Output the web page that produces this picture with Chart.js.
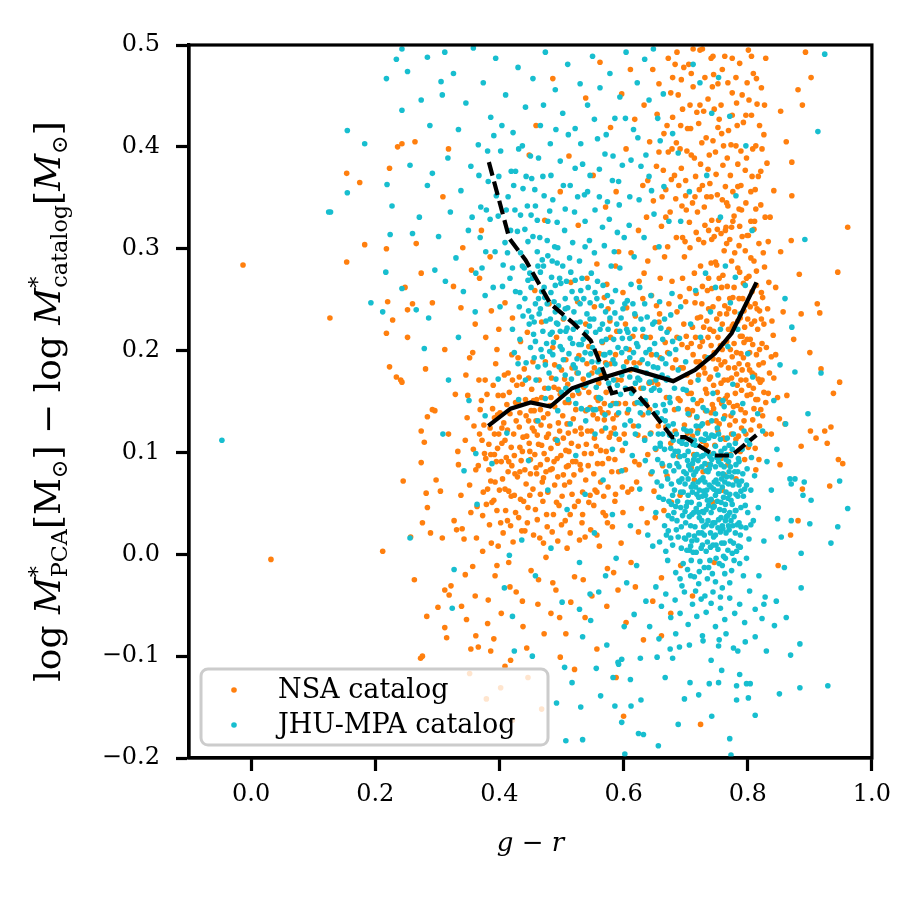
<!DOCTYPE html>
<html>
<head>
<meta charset="utf-8">
<script src="https://cdn.jsdelivr.net/npm/chart.js@4.4.1/dist/chart.umd.min.js"></script>
<style>
  html, body { margin: 0; padding: 0; background: #fff; }
  #wrap { width: 900px; height: 900px; }
</style>
</head>
<body>
<div id="wrap"><canvas id="myChart" width="900" height="900"></canvas></div>
<script>
// ticks
let xTicks = [0.0, 0.2, 0.4, 0.6, 0.8, 1.0];
let yTicks = [-0.2, -0.1, 0.0, 0.1, 0.2, 0.3, 0.4, 0.5];

// running medians (solid = NSA, dashed = JHU-MPA)
let nsaMedianX = [0.382, 0.418, 0.450, 0.482, 0.517, 0.555, 0.613, 0.680, 0.715, 0.747, 0.774, 0.814];
let nsaMedianY = [0.126, 0.143, 0.149, 0.145, 0.163, 0.171, 0.182, 0.170, 0.181, 0.197, 0.217, 0.267];
let jhuMedianX = [0.383, 0.416, 0.442, 0.482, 0.517, 0.547, 0.565, 0.581, 0.613, 0.645, 0.678, 0.699, 0.747, 0.774, 0.814];
let jhuMedianY = [0.385, 0.310, 0.289, 0.246, 0.228, 0.210, 0.184, 0.158, 0.163, 0.141, 0.115, 0.115, 0.097, 0.097, 0.117];

// NSA catalog points (g-r, delta log M)
let nsaPoints = [
// left lobe core
[0.372,0.112],[0.381,0.064],[0.389,0.143],[0.395,0.091],[0.402,0.031],[0.408,0.176],[0.413,0.122],[0.419,0.057],[0.424,0.097],[0.431,0.148],[0.436,0.023],[0.441,0.083],[0.447,0.131],[0.452,0.162],[0.458,0.044],[0.463,0.108],[0.469,0.071],[0.474,0.189],[0.481,0.126],[0.487,0.039],[0.493,0.094],[0.498,0.157],[0.505,0.068],[0.511,0.119],[0.517,0.183],
[0.366,0.087],[0.377,0.171],[0.384,0.029],[0.392,0.118],[0.398,0.156],[0.405,0.074],[0.411,0.095],[0.417,0.138],[0.422,0.012],[0.428,0.166],[0.433,0.105],[0.439,0.052],[0.444,0.116],[0.450,0.079],[0.456,0.141],[0.461,0.034],[0.467,0.127],[0.472,0.099],[0.478,0.061],[0.484,0.173],[0.490,0.113],[0.496,0.048],[0.502,0.136],[0.508,0.086],[0.514,0.021],
[0.369,0.142],[0.379,0.049],[0.386,0.098],[0.394,0.187],[0.400,0.063],[0.407,0.129],[0.414,0.081],[0.420,0.196],[0.426,0.041],[0.432,0.125],[0.437,0.167],[0.443,0.069],[0.449,0.101],[0.455,0.019],[0.460,0.152],[0.466,0.088],[0.471,0.134],[0.477,0.027],[0.483,0.104],[0.489,0.145],[0.494,0.076],[0.500,0.181],[0.506,0.033],[0.512,0.149],[0.518,0.091],
[0.375,0.127],[0.383,0.083],[0.391,0.053],[0.397,0.137],[0.404,0.109],[0.410,0.043],[0.416,0.159],[0.423,0.118],[0.429,0.076],[0.435,0.092],[0.440,0.182],[0.446,0.046],[0.453,0.124],[0.459,0.085],[0.464,0.171],[0.470,0.052],[0.476,0.115],[0.482,0.083],[0.488,0.164],[0.495,0.129],[0.501,0.057],[0.507,0.102],[0.513,0.071],[0.519,0.133],
[0.371,0.151],[0.378,0.094],[0.385,0.124],[0.393,0.071],[0.401,0.139],[0.409,0.112],[0.415,0.062],[0.421,0.171],[0.427,0.131],[0.434,0.054],[0.442,0.152],[0.448,0.109],[0.454,0.064],[0.461,0.117],[0.468,0.154],[0.475,0.081],[0.481,0.146],[0.488,0.091],[0.495,0.162],[0.503,0.114],[0.510,0.167],[0.516,0.109],[0.525,0.178],[0.531,0.124],[0.537,0.099],[0.544,0.159],[0.551,0.137],[0.558,0.089],[0.565,0.121],[0.572,0.101],
[0.383,0.108],[0.390,0.166],[0.396,0.043],[0.403,0.091],[0.412,0.147],[0.418,0.028],[0.425,0.079],[0.430,0.193],[0.438,0.115],[0.445,0.031],[0.451,0.141],[0.457,0.098],[0.465,0.016],[0.471,0.075],[0.479,0.118],[0.486,0.203],[0.492,0.051],[0.499,0.097],[0.506,0.149],[0.514,0.039],[0.520,0.078],[0.527,0.106],[0.534,0.061],[0.541,0.187],[0.547,0.024],[0.553,0.114],[0.560,0.168],[0.568,0.057],[0.575,0.139],[0.581,0.081],
[0.374,0.061],[0.387,0.011],[0.399,0.118],[0.406,0.156],[0.419,0.105],[0.433,0.139],[0.447,0.173],[0.456,0.121],[0.466,0.059],[0.478,0.138],[0.485,0.022],[0.497,0.121],[0.509,0.128],[0.518,0.156],[0.529,0.014],[0.539,0.141],[0.552,0.048],[0.562,0.143],[0.577,0.115],[0.589,0.171],
[0.368,0.118],[0.373,0.038],[0.380,0.157],[0.386,0.072],[0.392,0.134],[0.398,0.008],[0.404,0.124],[0.409,0.064],[0.414,0.178],[0.420,0.087],[0.426,0.149],[0.431,0.036],[0.437,0.101],[0.443,0.136],[0.449,0.058],[0.454,0.189],[0.460,0.079],[0.466,0.142],[0.471,0.011],[0.477,0.093],[0.483,0.154],[0.489,0.068],[0.494,0.109],[0.500,0.029],[0.505,0.172],[0.511,0.087],[0.517,0.059],[0.522,0.121],[0.528,0.158],[0.534,0.039],[0.540,0.108],[0.546,0.144],[0.552,0.079],[0.557,0.019],[0.563,0.102],[0.569,0.148],[0.575,0.066],[0.580,0.119],[0.586,0.093],[0.592,0.148],
[0.376,0.099],[0.388,0.051],[0.397,0.104],[0.406,0.021],[0.415,0.091],[0.424,0.058],[0.433,0.081],[0.441,0.023],[0.450,0.093],[0.459,0.131],[0.468,0.107],[0.476,0.039],[0.485,0.084],[0.494,0.013],[0.503,0.078],[0.512,0.101],[0.521,0.047],[0.530,0.088],[0.539,0.073],[0.548,0.121],[0.557,0.061],[0.566,0.089],[0.574,0.031],[0.583,0.133],[0.598,0.102],[0.607,0.061],[0.616,0.126],[0.625,0.088],[0.634,0.114],[0.644,0.079],
[0.352,0.068],[0.358,0.103],[0.363,0.016],[0.367,0.171],[0.392,0.098],[0.413,0.033],[0.432,0.174],[0.455,0.151],[0.473,0.163],[0.489,0.186],[0.507,0.191],[0.523,0.091],[0.535,0.172],[0.544,0.051],[0.556,0.154],[0.571,0.188],[0.587,0.059],[0.603,0.148],[0.621,0.071],[0.641,0.168],[0.345,0.112],[0.338,0.058],[0.349,0.156],[0.357,0.198],[0.396,0.201],
// left lobe edges
[0.305,0.062],[0.312,0.201],[0.318,0.118],[0.322,-0.031],[0.329,0.157],[0.334,0.088],[0.338,0.242],[0.343,0.015],[0.348,0.134],[0.352,0.193],[0.357,-0.012],[0.361,0.226],[0.364,0.047],[0.368,0.271],[0.373,0.003],[0.378,0.213],[0.382,-0.045],[0.387,0.239],[0.393,-0.021],[0.399,0.221],[0.403,-0.058],[0.409,0.247],[0.415,-0.008],[0.421,0.232],[0.427,-0.037],[0.434,0.209],[0.438,-0.071],[0.445,0.218],[0.451,-0.016],[0.457,0.259],[0.462,-0.049],[0.468,0.228],[0.475,-0.003],[0.480,0.246],[0.486,-0.028],[0.492,0.213],[0.497,-0.062],[0.503,0.231],[0.509,0.006],[0.515,0.267],[0.521,-0.022],[0.527,0.052],[0.532,0.118],[0.538,0.017],[0.543,0.087],[0.549,-0.041],[0.554,0.063],[0.561,0.008],[0.567,0.041],[0.574,-0.014],[0.582,0.027],[0.591,-0.035],
[0.326,0.263],[0.341,0.301],[0.355,0.279],[0.371,0.318],[0.385,0.292],[0.296,0.141],[0.289,0.021],[0.301,-0.052],[0.315,-0.082],[0.333,0.101],[0.346,0.176],[0.359,0.126],[0.362,0.083],[0.354,0.041],[0.347,-0.064],[0.366,-0.091],[0.391,-0.083],[0.418,-0.104],[0.444,-0.092],[0.472,-0.078],[0.498,-0.101],[0.281,0.182],[0.273,-0.102],[0.292,0.247],[0.309,0.351],[0.318,0.398],[0.264,0.405],[0.248,0.262],[0.241,0.171],
[0.276,-0.100],[0.312,-0.072],[0.354,-0.093],[0.386,-0.095],[0.362,-0.080],[0.409,-0.110],[0.345,-0.020],[0.312,-0.035],[0.319,-0.040],[0.276,0.031],[0.282,0.060],[0.284,0.046],[0.298,0.073],[0.274,0.090],[0.279,0.110],[0.274,0.121],[0.284,0.135],[0.292,0.142],[0.308,0.016],[0.327,0.033],[0.340,0.025],
// middle band
[0.523,0.142],[0.528,0.195],[0.531,0.083],[0.536,0.164],[0.539,0.226],[0.542,0.121],[0.546,0.058],[0.549,0.178],[0.553,0.243],[0.556,0.106],[0.559,0.151],[0.563,0.071],[0.566,0.208],[0.569,0.132],[0.573,0.265],[0.576,0.094],[0.579,0.187],[0.583,0.148],[0.586,0.052],[0.589,0.219],[0.593,0.113],[0.596,0.171],[0.599,0.257],[0.603,0.083],[0.606,0.139],[0.609,0.201],[0.613,0.064],[0.616,0.162],[0.619,0.234],[0.623,0.117],[0.626,0.188],[0.629,0.045],[0.633,0.276],[0.636,0.148],[0.639,0.098],[0.643,0.213],[0.646,0.169],[0.649,0.062],[0.653,0.244],[0.656,0.126],[0.659,0.193],[0.663,0.087],[0.666,0.292],[0.669,0.154],[0.673,0.221],[0.676,0.109],[0.679,0.183],
[0.526,0.248],[0.533,0.031],[0.541,0.271],[0.548,0.099],[0.557,0.285],[0.564,0.176],[0.571,0.038],[0.578,0.229],[0.585,0.124],[0.592,0.297],[0.598,0.066],[0.605,0.242],[0.611,0.181],[0.618,0.091],[0.625,0.268],[0.631,0.137],[0.638,0.031],[0.645,0.254],[0.652,0.103],[0.658,0.236],[0.665,0.043],[0.671,0.198],[0.678,0.268],[0.544,0.204],[0.558,0.133],[0.572,0.159],[0.587,0.196],[0.601,0.118],[0.615,0.214],[0.628,0.163],[0.642,0.142],[0.655,0.167],[0.668,0.125],
[0.561,0.197],[0.575,0.241],[0.589,0.137],[0.603,0.226],[0.617,0.188],[0.631,0.251],[0.645,0.196],[0.659,0.271],[0.673,0.246],[0.667,0.208],
[0.553,0.183],[0.566,0.139],[0.579,0.213],[0.592,0.081],[0.605,0.189],[0.618,0.148],[0.631,0.214],[0.644,0.119],[0.657,0.228],[0.670,0.077],[0.683,0.121],[0.691,0.253],[0.599,0.041],[0.624,0.022],[0.651,0.036],[0.677,0.051],[0.569,0.252],[0.587,0.283],[0.612,0.296],[0.639,0.288],
// right lobe core
[0.682,0.142],[0.686,0.238],[0.689,0.096],[0.692,0.183],[0.695,0.271],[0.698,0.127],[0.701,0.214],[0.704,0.158],[0.707,0.301],[0.709,0.085],[0.712,0.196],[0.715,0.247],[0.718,0.134],[0.721,0.176],[0.724,0.283],[0.727,0.111],[0.729,0.223],[0.732,0.162],[0.735,0.259],[0.738,0.098],[0.741,0.205],[0.743,0.147],[0.746,0.312],[0.749,0.182],[0.752,0.121],[0.755,0.236],[0.757,0.168],[0.760,0.274],[0.763,0.136],[0.766,0.209],[0.768,0.088],[0.771,0.251],[0.774,0.173],[0.777,0.145],[0.779,0.296],[0.782,0.198],[0.785,0.116],[0.788,0.232],[0.790,0.161],[0.793,0.266],[0.796,0.139],[0.799,0.211],[0.801,0.105],[0.804,0.243],[0.807,0.178],[0.810,0.288],[0.813,0.152],[0.816,0.221],[0.819,0.126],[0.822,0.257],[0.825,0.188],
[0.684,0.191],[0.691,0.058],[0.697,0.226],[0.703,0.119],[0.708,0.169],[0.714,0.073],[0.719,0.232],[0.725,0.151],[0.731,0.194],[0.736,0.129],[0.742,0.261],[0.747,0.107],[0.753,0.191],[0.758,0.148],[0.764,0.318],[0.769,0.183],[0.775,0.224],[0.780,0.131],[0.786,0.187],[0.791,0.214],[0.797,0.171],[0.802,0.273],[0.808,0.132],[0.814,0.196],[0.820,0.169],[0.826,0.226],
[0.688,0.153],[0.694,0.206],[0.700,0.248],[0.706,0.137],[0.711,0.223],[0.717,0.189],[0.723,0.204],[0.728,0.081],[0.734,0.229],[0.740,0.174],[0.745,0.219],[0.751,0.159],[0.756,0.205],[0.761,0.114],[0.767,0.156],[0.772,0.201],[0.778,0.262],[0.783,0.166],[0.789,0.142],[0.794,0.239],[0.800,0.186],[0.805,0.157],[0.811,0.229],[0.817,0.172],[0.823,0.207],[0.829,0.149],[0.832,0.241],[0.835,0.178],[0.838,0.118],[0.841,0.215],[0.845,0.262],[0.848,0.154],[0.772,0.098],[0.781,0.074],[0.795,0.093],[0.759,0.063],[0.744,0.051],
[0.702,0.176],[0.706,0.261],[0.711,0.141],[0.716,0.213],[0.720,0.122],[0.726,0.246],[0.731,0.178],[0.737,0.271],[0.741,0.139],[0.746,0.198],[0.750,0.284],[0.754,0.152],[0.759,0.226],[0.763,0.189],[0.767,0.263],[0.771,0.127],[0.775,0.194],[0.779,0.238],[0.783,0.146],[0.787,0.277],[0.791,0.181],[0.795,0.223],[0.799,0.156],[0.803,0.198],[0.807,0.258],[0.811,0.176],[0.815,0.241],[0.819,0.201],[0.823,0.171],[0.827,0.282],[0.733,0.107],[0.757,0.094],[0.781,0.113],[0.805,0.122],[0.818,0.093],[0.762,0.298],[0.786,0.303],[0.744,0.243],[0.769,0.221],[0.793,0.193],
[0.722,0.189],[0.727,0.263],[0.732,0.141],[0.736,0.213],[0.741,0.286],[0.745,0.166],[0.750,0.231],[0.754,0.128],[0.758,0.262],[0.762,0.171],[0.766,0.236],[0.770,0.149],[0.774,0.288],[0.778,0.207],[0.782,0.177],[0.786,0.251],[0.790,0.124],[0.794,0.208],[0.798,0.271],[0.802,0.166],[0.806,0.226],[0.810,0.143],[0.814,0.264],[0.818,0.186],[0.822,0.231],[0.826,0.159],[0.830,0.203],[0.834,0.267],[0.838,0.194],[0.842,0.173],
[0.753,0.251],[0.761,0.207],[0.768,0.171],[0.776,0.252],[0.784,0.229],[0.792,0.251],[0.800,0.231],[0.808,0.206],[0.816,0.152],[0.824,0.252],[0.757,0.186],[0.773,0.136],[0.789,0.197],[0.805,0.291],[0.821,0.142],[0.737,0.241],[0.745,0.143],[0.764,0.113],[0.780,0.158],[0.797,0.118],[0.812,0.104],[0.829,0.118],[0.748,0.287],[0.771,0.309],[0.796,0.298],[0.717,0.256],[0.709,0.207],[0.703,0.142],[0.696,0.183],[0.713,0.098],
[0.703,0.203],[0.709,0.158],[0.714,0.276],[0.719,0.148],[0.724,0.233],[0.729,0.183],[0.734,0.158],[0.739,0.221],[0.744,0.192],[0.749,0.131],[0.754,0.271],[0.759,0.201],[0.764,0.153],[0.769,0.241],[0.774,0.118],[0.779,0.183],[0.784,0.281],[0.789,0.171],[0.794,0.131],[0.799,0.246],[0.804,0.211],[0.809,0.163],[0.814,0.278],[0.819,0.239],[0.824,0.136],[0.729,0.306],[0.751,0.319],[0.776,0.327],[0.801,0.313],[0.825,0.296],[0.711,0.116],[0.736,0.088],[0.762,0.078],[0.788,0.101],[0.813,0.083],[0.833,0.158],[0.839,0.229],[0.845,0.196],[0.851,0.133],[0.727,0.209],[0.752,0.213],[0.777,0.226],[0.803,0.181],[0.738,0.172],[0.763,0.244],[0.788,0.214],[0.812,0.246],[0.698,0.292],[0.691,0.151],[0.686,0.213],
// upper right
[0.624,0.318],[0.631,0.362],[0.637,0.331],[0.642,0.405],[0.648,0.347],[0.653,0.381],[0.657,0.462],[0.661,0.322],[0.665,0.413],[0.668,0.358],[0.672,0.487],[0.675,0.336],[0.679,0.429],[0.682,0.372],[0.685,0.311],[0.688,0.451],[0.691,0.398],[0.694,0.342],[0.697,0.478],[0.700,0.367],[0.703,0.418],[0.706,0.326],[0.709,0.392],[0.712,0.459],[0.715,0.351],[0.718,0.434],[0.721,0.309],[0.724,0.383],[0.727,0.496],[0.730,0.341],[0.733,0.409],[0.736,0.447],[0.739,0.364],[0.742,0.328],[0.745,0.471],[0.748,0.395],[0.751,0.353],[0.754,0.427],[0.757,0.315],[0.760,0.382],[0.763,0.489],[0.766,0.345],[0.769,0.416],[0.772,0.372],[0.775,0.453],[0.778,0.332],[0.781,0.401],[0.784,0.361],[0.787,0.482],[0.790,0.338],[0.793,0.424],[0.796,0.377],[0.799,0.313],[0.802,0.446],[0.805,0.356],[0.808,0.398],[0.811,0.327],[0.814,0.467],[0.817,0.371],[0.821,0.343],[0.826,0.412],[0.831,0.384],[0.836,0.331],[0.842,0.357],
[0.664,0.377],[0.671,0.302],[0.678,0.398],[0.686,0.493],[0.693,0.379],[0.699,0.307],[0.707,0.441],[0.714,0.389],[0.722,0.358],[0.729,0.435],[0.737,0.318],[0.744,0.406],[0.752,0.462],[0.759,0.348],[0.767,0.389],[0.774,0.321],[0.782,0.443],[0.789,0.396],[0.797,0.345],[0.806,0.489],[0.813,0.401],[0.822,0.458],[0.829,0.487],
[0.668,0.331],[0.676,0.453],[0.684,0.349],[0.692,0.421],[0.701,0.338],[0.709,0.472],[0.717,0.316],[0.726,0.404],[0.734,0.351],[0.741,0.487],[0.749,0.373],[0.757,0.441],[0.765,0.321],[0.773,0.402],[0.781,0.468],[0.789,0.362],[0.797,0.431],[0.805,0.327],[0.812,0.358],[0.819,0.421],[0.702,0.396],[0.731,0.468],[0.758,0.413],[0.786,0.339],[0.809,0.472],
[0.662,0.351],[0.670,0.421],[0.677,0.368],[0.685,0.404],[0.693,0.466],[0.700,0.352],[0.708,0.418],[0.716,0.371],[0.723,0.441],[0.731,0.323],[0.738,0.392],[0.746,0.437],[0.753,0.328],[0.761,0.401],[0.768,0.463],[0.776,0.356],[0.783,0.421],[0.791,0.312],[0.798,0.389],[0.806,0.431],[0.813,0.339],[0.821,0.376],[0.828,0.331],[0.695,0.311],[0.719,0.336],[0.741,0.351],[0.764,0.361],[0.787,0.322],[0.810,0.319],[0.833,0.307],[0.654,0.432],[0.683,0.481],[0.712,0.496],[0.744,0.489],[0.775,0.487],[0.801,0.495],[0.827,0.441],[0.639,0.367],[0.651,0.301],[0.633,0.441],
[0.672,0.395],[0.689,0.362],[0.705,0.481],[0.721,0.423],[0.736,0.378],[0.752,0.419],[0.768,0.342],[0.784,0.383],[0.799,0.463],[0.815,0.442],[0.679,0.468],[0.695,0.437],[0.711,0.345],[0.727,0.362],[0.743,0.459],[0.759,0.476],[0.775,0.431],[0.791,0.451],[0.807,0.371],[0.823,0.398],[0.657,0.395],[0.647,0.476],[0.742,0.309],[0.766,0.305],[0.818,0.305],
[0.618,0.427],[0.611,0.476],[0.604,0.398],[0.597,0.452],[0.588,0.356],[0.579,0.419],[0.571,0.341],[0.562,0.483],[0.551,0.372],[0.539,0.448],[0.527,0.323],[0.512,0.391],[0.498,0.356],[0.486,0.467],[0.473,0.328],[0.459,0.421],[0.448,0.392],[0.862,0.405],[0.871,0.352],[0.881,0.456],[0.893,0.493],[0.853,0.297],
[0.723,0.495],[0.902,0.468],[0.888,0.441],[0.886,0.236],[0.900,0.198],[0.916,0.237],[0.948,0.169],[0.870,0.308],[0.871,0.385],[0.853,0.435],[0.945,0.277],
// lower part
[0.352,-0.117],[0.379,-0.142],[0.402,-0.131],[0.421,-0.163],[0.446,-0.121],[0.468,-0.152],[0.483,-0.058],[0.507,-0.078],[0.521,-0.113],[0.538,-0.062],[0.557,-0.093],[0.573,-0.051],[0.588,-0.121],[0.604,-0.067],[0.619,-0.032],[0.632,-0.084],[0.647,-0.046],[0.661,-0.023],[0.676,-0.058],[0.692,-0.011],[0.711,-0.041],[0.724,-0.167],[0.746,-0.008],[0.612,-0.008],[0.596,0.011],[0.584,-0.018],[0.535,-0.025],[0.515,-0.047],[0.491,-0.035],[0.463,-0.025],[0.437,-0.046],[0.417,-0.032],[0.396,-0.011],[0.381,-0.068],[0.361,-0.041],[0.339,-0.051],[0.331,0.024],[0.600,-0.159],[0.661,-0.080],
// right side scatter
[0.852,0.088],[0.863,0.156],[0.874,0.211],[0.888,0.064],[0.901,0.121],[0.918,0.182],[0.928,0.109],[0.938,0.158],[0.946,0.093],[0.961,0.321],[0.857,0.238],[0.869,0.019],[0.883,0.275],[0.912,0.246],[0.953,0.089],[0.932,0.067],[0.886,0.106],[0.910,0.114],[0.924,0.121],[0.934,0.125],[0.860,0.128],[0.881,0.033],[0.849,-0.011],
// far left
[-0.013,0.284],[0.032,-0.005],[0.212,0.003],[0.127,0.232],[0.154,0.374],[0.175,0.365],[0.154,0.287],[0.183,0.304],[0.218,0.300],[0.223,0.379],[0.236,0.400],[0.243,0.403],[0.266,0.305],[0.274,0.276],[0.218,0.217],[0.220,0.248],[0.223,0.184],[0.234,0.174],[0.243,0.169],[0.228,0.230],[0.252,0.240],[0.252,0.213],[0.260,0.246],[0.245,0.072],[0.257,0.017],[0.263,-0.025],[0.283,-0.061]
];

// JHU-MPA catalog points
let jhuPoints = [
// red-sequence blob
[0.652,0.041],[0.655,0.093],[0.658,0.012],[0.661,0.067],[0.663,0.118],[0.666,0.028],[0.668,0.081],[0.671,-0.006],[0.673,0.052],[0.676,0.104],[0.678,0.035],[0.680,0.128],[0.682,0.063],[0.684,-0.018],[0.686,0.089],[0.688,0.017],[0.690,0.111],[0.692,0.046],[0.694,0.074],[0.696,-0.009],[0.698,0.097],[0.700,0.031],[0.702,0.121],[0.704,0.058],[0.706,0.004],[0.708,0.083],[0.710,0.039],[0.712,0.108],[0.714,-0.022],[0.716,0.066],[0.718,0.014],[0.720,0.092],[0.722,0.049],[0.724,0.126],[0.726,0.021],[0.728,0.075],[0.730,-0.013],[0.732,0.058],[0.734,0.101],[0.736,0.033],[0.738,0.084],[0.740,0.007],[0.742,0.117],[0.744,0.046],[0.746,0.071],[0.748,-0.027],[0.750,0.095],[0.752,0.026],[0.754,0.062],[0.756,0.113],[0.758,0.011],[0.760,0.079],[0.762,0.043],[0.764,-0.004],[0.766,0.098],[0.768,0.055],[0.770,0.024],[0.772,0.086],[0.774,-0.016],[0.776,0.068],[0.778,0.037],[0.780,0.109],[0.782,0.003],[0.784,0.057],[0.786,0.091],[0.788,0.019],[0.790,0.072],[0.793,-0.021],[0.796,0.048],[0.799,0.084],[0.802,0.015],[0.805,0.063],[0.809,0.033],
[0.654,0.071],[0.659,0.109],[0.664,0.054],[0.669,0.019],[0.674,0.087],[0.679,0.009],[0.683,0.101],[0.687,0.052],[0.691,-0.024],[0.695,0.038],[0.699,0.069],[0.703,-0.015],[0.707,0.113],[0.711,0.061],[0.715,0.027],[0.719,0.119],[0.723,-0.007],[0.727,0.042],[0.731,0.089],[0.735,0.012],[0.739,0.053],[0.743,-0.019],[0.747,0.031],[0.751,0.124],[0.755,0.044],[0.759,-0.011],[0.763,0.071],[0.767,0.114],[0.771,0.041],[0.775,0.001],[0.779,0.081],[0.783,0.029],[0.787,-0.009],[0.791,0.103],[0.795,0.064],[0.800,0.041],[0.806,0.095],
[0.657,0.056],[0.662,0.089],[0.667,0.131],[0.672,0.023],[0.677,0.069],[0.681,0.041],[0.685,0.118],[0.689,0.072],[0.693,0.006],[0.697,0.123],[0.701,0.047],[0.705,0.087],[0.709,-0.006],[0.713,0.078],[0.717,0.045],[0.721,-0.029],[0.725,0.096],[0.729,0.062],[0.733,0.029],[0.737,0.114],[0.741,0.066],[0.745,0.099],[0.749,0.009],[0.753,0.079],[0.757,0.051],[0.761,0.133],[0.765,0.021],[0.769,0.069],[0.773,0.053],[0.777,0.118],[0.781,0.059],[0.785,0.008],[0.789,0.046],[0.794,0.121],[0.798,-0.004],[0.803,0.108],[0.811,0.077],
[0.700,0.015],[0.703,0.092],[0.706,0.037],[0.709,0.066],[0.712,0.002],[0.715,0.097],[0.718,0.059],[0.721,0.021],[0.724,0.073],[0.727,0.009],[0.730,0.112],[0.733,0.044],[0.736,0.081],[0.739,-0.006],[0.742,0.028],[0.745,0.064],[0.748,0.106],[0.751,0.052],[0.754,-0.009],[0.757,0.088],[0.760,0.025],[0.763,0.104],[0.766,0.037],[0.769,0.091],[0.772,0.013],[0.718,0.135],[0.734,0.141],[0.748,0.138],[0.762,0.145],[0.776,0.139],[0.744,-0.037],[0.731,-0.041],[0.759,-0.033],[0.716,-0.036],[0.771,-0.028],
[0.668,0.003],[0.674,0.117],[0.679,0.058],[0.685,0.024],[0.691,0.096],[0.696,0.061],[0.702,0.004],[0.708,0.121],[0.713,0.041],[0.719,0.084],[0.725,0.006],[0.731,0.071],[0.737,0.048],[0.742,0.093],[0.748,0.019],[0.753,0.118],[0.759,0.066],[0.764,0.033],[0.770,0.107],[0.775,0.049],[0.781,0.088],[0.786,0.031],[0.792,0.079],[0.797,0.026],[0.703,0.051],[0.716,0.107],[0.729,0.027],[0.741,0.041],[0.755,0.096],[0.768,0.004],[0.722,0.063],[0.735,0.099],[0.748,0.086],[0.761,0.056],[0.711,0.089],[0.694,0.109],[0.681,0.082],[0.786,0.068],[0.799,0.112],[0.672,0.038],
[0.671,0.074],[0.676,0.016],[0.680,0.112],[0.684,0.047],[0.689,0.086],[0.693,0.027],[0.697,0.081],[0.701,0.108],[0.705,0.019],[0.709,0.051],[0.713,0.093],[0.717,0.002],[0.721,0.056],[0.725,0.113],[0.729,0.041],[0.733,0.082],[0.737,-0.013],[0.741,0.054],[0.745,0.017],[0.749,0.073],[0.753,0.034],[0.757,0.101],[0.761,-0.002],[0.765,0.061],[0.769,0.028],[0.773,0.097],[0.777,0.011],[0.781,0.043],[0.785,0.094],[0.789,0.062],[0.708,0.028],[0.714,0.112],[0.720,0.071],[0.726,0.033],[0.732,0.118],[0.738,0.068],[0.744,0.009],[0.750,0.062],[0.756,0.022],[0.762,0.086],[0.768,0.038],[0.774,0.076],[0.780,0.021],[0.692,0.061],[0.698,0.016],[0.704,0.074],[0.710,0.013],[0.716,0.081],[0.722,0.036],[0.728,0.097],[0.734,0.063],[0.740,0.088],[0.746,0.047],[0.752,0.005],[0.758,0.074],[0.764,0.049],[0.770,0.081],[0.776,0.028],[0.782,0.072],[0.788,0.007],[0.735,-0.024],[0.722,-0.017],[0.749,-0.004],[0.763,-0.019],[0.708,-0.021],[0.778,-0.006],[0.694,-0.031],[0.756,-0.042],[0.742,0.131],[0.727,0.128],
[0.686,0.033],[0.690,0.071],[0.695,0.113],[0.699,0.042],[0.704,0.101],[0.708,0.008],[0.712,0.069],[0.717,0.126],[0.721,0.041],[0.726,0.086],[0.730,0.019],[0.735,0.053],[0.739,0.096],[0.744,0.031],[0.748,0.058],[0.753,0.091],[0.757,0.036],[0.762,0.011],[0.766,0.076],[0.771,0.059],[0.775,0.103],[0.780,0.043],[0.784,0.081],[0.789,0.027],[0.793,0.057],[0.714,0.018],[0.727,0.057],[0.740,0.021],[0.752,0.069],[0.765,0.093],[0.701,0.079],[0.718,0.098],[0.733,0.003],[0.746,0.116],[0.759,0.028],[0.773,0.033],[0.688,0.101],[0.677,0.049],[0.798,0.068],[0.805,0.029],
// middle band
[0.421,0.221],[0.426,0.258],[0.430,0.187],[0.434,0.296],[0.438,0.234],[0.442,0.171],[0.446,0.269],[0.450,0.203],[0.454,0.312],[0.458,0.246],[0.462,0.184],[0.466,0.277],[0.470,0.219],[0.474,0.153],[0.478,0.293],[0.482,0.231],[0.486,0.196],[0.490,0.264],[0.494,0.141],[0.498,0.219],[0.502,0.283],[0.506,0.176],[0.510,0.242],[0.514,0.128],[0.518,0.207],[0.522,0.269],[0.526,0.161],[0.530,0.228],[0.534,0.191],[0.538,0.302],[0.542,0.142],[0.546,0.247],[0.550,0.203],[0.554,0.118],[0.558,0.268],[0.562,0.181],[0.566,0.226],[0.570,0.137],[0.574,0.254],[0.578,0.198],[0.582,0.103],[0.586,0.237],[0.590,0.166],[0.594,0.281],[0.598,0.212],[0.602,0.127],[0.606,0.249],[0.610,0.174],[0.614,0.097],[0.618,0.221],[0.622,0.149],[0.626,0.262],[0.630,0.191],[0.634,0.112],[0.638,0.233],[0.642,0.169],[0.646,0.081],[0.650,0.207],[0.654,0.139],[0.658,0.248],[0.662,0.176],[0.666,0.103],[0.670,0.218],[0.674,0.154],[0.678,0.256],
[0.424,0.198],[0.432,0.243],[0.440,0.281],[0.448,0.226],[0.456,0.193],[0.464,0.236],[0.472,0.262],[0.480,0.178],[0.488,0.248],[0.496,0.184],[0.504,0.232],[0.512,0.197],[0.520,0.238],[0.528,0.206],[0.536,0.251],[0.544,0.176],[0.552,0.231],[0.560,0.154],[0.568,0.196],[0.576,0.168],[0.584,0.211],[0.592,0.139],[0.600,0.184],[0.608,0.142],[0.616,0.198],[0.624,0.126],[0.632,0.163],[0.640,0.139],[0.648,0.184],[0.656,0.118],[0.664,0.147],[0.672,0.126],[0.680,0.097],[0.688,0.143],[0.696,0.162],[0.704,0.138],[0.712,0.152],[0.720,0.171],[0.728,0.144],[0.736,0.193],[0.744,0.158],[0.752,0.176],[0.760,0.151],[0.768,0.204],[0.776,0.167],[0.784,0.221],[0.792,0.148],[0.800,0.197],[0.808,0.174],[0.816,0.138],
[0.476,0.207],[0.484,0.272],[0.492,0.227],[0.500,0.159],[0.508,0.268],[0.516,0.172],[0.524,0.251],[0.532,0.143],[0.540,0.218],[0.548,0.276],[0.556,0.164],[0.564,0.244],[0.572,0.211],[0.580,0.283],[0.588,0.148],[0.596,0.232],[0.604,0.202],[0.612,0.265],[0.620,0.183],[0.628,0.231],[0.636,0.198],[0.644,0.254],[0.652,0.171],[0.660,0.222],[0.668,0.187],[0.676,0.235],[0.684,0.201],[0.692,0.243],[0.700,0.189],[0.708,0.226],[0.716,0.259],[0.724,0.213],[0.732,0.276],[0.740,0.238],[0.748,0.262],[0.756,0.221],[0.764,0.283],[0.772,0.247],[0.780,0.272],[0.788,0.236],[0.796,0.264],
[0.433,0.211],[0.441,0.251],[0.452,0.233],[0.461,0.297],[0.469,0.194],[0.477,0.246],[0.485,0.218],[0.493,0.286],[0.501,0.201],[0.509,0.222],[0.517,0.258],[0.525,0.192],[0.533,0.271],[0.541,0.236],[0.549,0.189],[0.557,0.251],[0.565,0.209],[0.573,0.186],[0.581,0.248],[0.589,0.226],[0.597,0.176],[0.605,0.221],[0.613,0.158],[0.621,0.207],[0.629,0.148],[0.637,0.178],[0.645,0.161],[0.653,0.196],[0.661,0.133],[0.669,0.171],
[0.443,0.188],[0.447,0.239],[0.451,0.262],[0.455,0.216],[0.459,0.171],[0.463,0.251],[0.467,0.201],[0.471,0.283],[0.475,0.229],[0.479,0.163],[0.483,0.257],[0.487,0.208],[0.491,0.172],[0.495,0.244],[0.499,0.266],[0.503,0.191],[0.507,0.219],[0.511,0.152],[0.515,0.277],[0.519,0.186],[0.523,0.227],[0.527,0.178],[0.531,0.259],[0.535,0.211],[0.539,0.166],[0.543,0.262],[0.547,0.197],[0.551,0.142],[0.555,0.218],[0.559,0.189],[0.563,0.153],[0.567,0.264],[0.571,0.174],[0.575,0.221],[0.579,0.146],[0.583,0.191],[0.587,0.259],[0.591,0.203],[0.595,0.157],[0.599,0.241],[0.603,0.163],[0.607,0.218],[0.611,0.131],[0.615,0.246],[0.619,0.168],[0.623,0.204],[0.627,0.139],[0.631,0.221],[0.635,0.151],[0.639,0.187],[0.643,0.118],[0.647,0.226],[0.651,0.146],[0.655,0.183],[0.659,0.106],[0.663,0.211],[0.667,0.141],[0.671,0.173],[0.675,0.118],[0.679,0.209],
[0.456,0.228],[0.468,0.258],[0.481,0.199],[0.494,0.226],[0.506,0.251],[0.519,0.221],[0.532,0.206],[0.545,0.224],[0.558,0.179],[0.571,0.238],[0.584,0.171],[0.597,0.198],[0.610,0.212],[0.623,0.173],[0.636,0.213],[0.649,0.163],[0.662,0.192],[0.675,0.149],[0.688,0.181],[0.701,0.161],
[0.458,0.209],[0.466,0.241],[0.474,0.186],[0.482,0.216],[0.490,0.238],[0.498,0.204],[0.506,0.241],[0.514,0.212],[0.522,0.183],[0.530,0.246],[0.538,0.198],[0.546,0.231],[0.554,0.257],[0.562,0.221],[0.570,0.196],[0.578,0.232],[0.586,0.187],[0.594,0.219],[0.602,0.246],[0.610,0.193],[0.618,0.236],[0.626,0.171],[0.634,0.246],[0.642,0.201],[0.650,0.228],[0.658,0.161],[0.666,0.231],[0.674,0.197],[0.682,0.163],[0.690,0.212],[0.507,0.163],[0.523,0.148],[0.539,0.131],[0.555,0.142],[0.571,0.124],[0.587,0.118],[0.603,0.109],[0.619,0.118],[0.635,0.092],[0.651,0.104],
// upper-left wedge
[0.302,0.312],[0.308,0.451],[0.313,0.268],[0.317,0.389],[0.321,0.336],[0.326,0.472],[0.330,0.291],[0.334,0.417],[0.338,0.357],[0.342,0.258],[0.346,0.443],[0.350,0.318],[0.354,0.381],[0.358,0.497],[0.362,0.276],[0.366,0.402],[0.370,0.341],[0.374,0.463],[0.378,0.297],[0.382,0.366],[0.386,0.429],[0.390,0.262],[0.394,0.487],[0.398,0.332],[0.402,0.396],[0.406,0.284],[0.410,0.451],[0.414,0.351],[0.418,0.318],[0.422,0.414],[0.426,0.376],[0.430,0.478],[0.434,0.333],[0.438,0.359],[0.442,0.439],[0.446,0.307],[0.450,0.391],[0.454,0.467],[0.458,0.342],[0.462,0.283],[0.466,0.421],[0.470,0.371],[0.474,0.493],[0.478,0.327],[0.482,0.403],[0.486,0.348],[0.490,0.456],[0.494,0.301],[0.498,0.386],[0.502,0.433],[0.506,0.339],[0.510,0.481],[0.514,0.362],[0.518,0.306],[0.522,0.418],[0.526,0.351],[0.530,0.462],[0.534,0.383],[0.538,0.327],[0.542,0.441],[0.546,0.372],[0.550,0.489],[0.554,0.338],[0.558,0.408],[0.562,0.458],[0.566,0.321],[0.570,0.393],[0.574,0.346],[0.578,0.472],[0.582,0.367],[0.586,0.428],[0.590,0.316],[0.594,0.449],[0.598,0.382],[0.604,0.493],[0.610,0.351],[0.616,0.417],[0.622,0.463],[0.628,0.381],[0.634,0.486],[0.641,0.446],[0.648,0.496],[0.655,0.428],
[0.361,0.238],[0.369,0.311],[0.377,0.254],[0.385,0.329],[0.393,0.297],[0.401,0.243],[0.409,0.306],[0.417,0.271],[0.425,0.338],[0.433,0.257],[0.441,0.319],[0.449,0.276],[0.457,0.358],[0.465,0.311],[0.473,0.252],[0.481,0.337],[0.489,0.302],[0.497,0.271],[0.505,0.318],[0.513,0.291],[0.521,0.336],[0.529,0.288],[0.537,0.353],[0.545,0.308],[0.553,0.296],[0.561,0.351],[0.569,0.303],[0.577,0.329],[0.585,0.297],[0.593,0.343],[0.601,0.311],[0.609,0.323],[0.617,0.292],[0.625,0.348],[0.633,0.311],[0.641,0.371],[0.649,0.334],[0.657,0.302],[0.665,0.361],[0.673,0.327],
[0.405,0.263],[0.413,0.296],[0.421,0.281],[0.429,0.317],[0.437,0.283],[0.445,0.342],[0.453,0.271],[0.461,0.328],[0.469,0.289],[0.477,0.308],[0.485,0.288],[0.493,0.326],[0.372,0.281],[0.381,0.396],[0.395,0.352],[0.404,0.421],[0.419,0.376],[0.437,0.401],[0.452,0.369],[0.471,0.441],
[0.356,0.331],[0.367,0.372],[0.379,0.338],[0.391,0.411],[0.399,0.371],[0.411,0.338],[0.423,0.362],[0.431,0.398],[0.443,0.371],[0.451,0.333],[0.463,0.389],[0.472,0.352],[0.483,0.372],[0.491,0.417],[0.503,0.362],[0.511,0.412],[0.522,0.379],[0.531,0.403],[0.542,0.356],[0.553,0.427],[0.561,0.378],[0.572,0.412],[0.583,0.391],[0.592,0.366],[0.603,0.428],[0.612,0.387],[0.623,0.409],[0.636,0.392],[0.645,0.357],[0.659,0.406],
[0.243,0.496],[0.234,0.486],[0.218,0.467],[0.252,0.474],[0.284,0.488],[0.243,0.436],[0.274,0.446],[0.155,0.416],[0.183,0.403],[0.155,0.355],[0.128,0.336],[0.219,0.363],[0.227,0.342],[0.224,0.314],[0.217,0.277],[0.212,0.238],[0.256,0.382],[0.243,0.261],[0.266,0.240],[0.279,0.202],[0.260,0.315],[0.284,0.362],[0.292,0.374],[0.288,0.421],[0.296,0.279],[0.271,0.331],[0.286,0.232],[0.306,0.464],[0.312,0.493],
// cyan within the upper-right orange cloud
[0.723,0.463],[0.742,0.433],[0.771,0.430],[0.688,0.394],[0.706,0.356],[0.734,0.372],[0.756,0.331],[0.781,0.352],[0.797,0.401],[0.712,0.481],[0.664,0.452],[0.679,0.413],[0.753,0.468],[0.807,0.318],[0.692,0.327],
// lower left, among NSA points
[0.362,0.099],[0.343,0.082],[0.388,0.089],[0.364,0.049],[0.327,-0.015],[0.324,-0.053],[0.408,-0.033],[0.424,-0.095],[0.416,-0.001],[0.421,-0.061],[0.256,0.016],[0.351,0.151],[0.377,0.136],[0.398,0.172],[0.412,0.119],[0.431,0.152],[0.447,0.092],[0.462,0.131],[0.478,0.063],[0.493,0.112],[0.509,0.044],[0.523,0.097],[0.538,0.059],[0.553,0.021],[0.567,0.073],[0.582,0.039],[0.597,0.082],[0.611,0.028],[0.626,0.064],[0.639,0.019],[0.318,0.171],[0.334,0.213],[0.309,0.118],[0.436,0.014],[0.458,-0.021],[0.483,0.006],[0.501,-0.047],[0.529,-0.008],[0.546,-0.039],[0.571,-0.021],[0.588,-0.004],[0.605,-0.028],[0.621,-0.011],[0.636,-0.046],[0.647,0.008],
// lower tail
[0.507,-0.183],[0.534,-0.182],[0.602,-0.196],[0.624,-0.176],[0.632,-0.177],[0.597,-0.165],[0.586,-0.149],[0.531,-0.150],[0.492,-0.146],[0.517,-0.126],[0.505,-0.111],[0.453,-0.100],[0.583,-0.121],[0.611,-0.123],[0.592,-0.108],[0.597,-0.103],[0.627,-0.102],[0.654,-0.101],[0.628,-0.143],[0.698,-0.142],[0.721,-0.138],[0.707,-0.126],[0.738,-0.127],[0.753,-0.126],[0.782,-0.129],[0.801,-0.141],[0.782,-0.143],[0.798,-0.127],[0.804,-0.127],[0.758,-0.114],[0.787,-0.118],[0.830,-0.095],[0.869,-0.099],[0.679,-0.102],[0.690,-0.091],[0.684,-0.078],[0.675,-0.093],[0.728,-0.085],[0.727,-0.080],[0.753,-0.090],[0.754,-0.084],[0.777,-0.092],[0.784,-0.095],[0.796,-0.086],[0.534,-0.081],[0.547,-0.065],[0.560,-0.037],[0.529,-0.054],[0.591,-0.106],
[0.652,-0.032],[0.661,-0.051],[0.668,-0.039],[0.676,-0.062],[0.683,-0.045],[0.691,-0.058],[0.698,-0.037],[0.704,-0.069],[0.711,-0.049],[0.718,-0.061],[0.725,-0.044],[0.733,-0.057],[0.741,-0.048],[0.748,-0.071],[0.756,-0.053],[0.763,-0.064],[0.771,-0.043],[0.779,-0.058],[0.787,-0.049],[0.795,-0.067],[0.803,-0.036],[0.812,-0.054],[0.642,-0.071],[0.657,-0.083],[0.706,-0.089],[0.741,-0.104],[0.765,-0.078],[0.812,-0.081],[0.823,-0.063],[0.818,-0.021],[0.826,0.013],[0.817,0.046],[0.831,0.091],[0.824,0.121],[0.617,-0.059],[0.601,-0.071],[0.573,-0.089],[0.556,-0.112],[0.563,-0.139],[0.612,-0.149],[0.667,-0.121],[0.688,-0.167],[0.742,-0.159],[0.771,-0.181],[0.812,-0.158],[0.851,-0.137],[0.773,-0.197],[0.656,-0.188],
// right-hand scatter
[0.913,0.415],[0.924,0.491],[0.892,0.309],[0.860,0.251],[0.876,0.179],[0.918,0.178],[0.897,0.138],[0.876,0.074],[0.891,0.071],[0.948,0.072],[0.961,0.045],[0.945,0.027],[0.934,0.011],[0.886,-0.033],[0.884,-0.088],[0.929,-0.129],[0.884,-0.131],[0.902,0.053],[0.889,0.058],[0.870,0.069],[0.868,0.074],[0.870,0.033],[0.900,0.030],[0.886,0.001],[0.854,0.017],[0.859,-0.013],[0.843,-0.070],[0.862,-0.062],[0.846,-0.046],[0.828,-0.042],[0.826,-0.049],[0.847,0.103],[0.861,0.128],[0.852,0.186],[0.871,0.223],[0.842,0.151],[0.838,0.063],[0.848,0.035],
// outliers
[-0.047,0.112],[0.125,0.336],[0.193,0.247]
];

let orange = '#ff7f0e';
let cyan = '#17becf';
let serif = '"DejaVu Serif", "Liberation Serif", serif';

Chart.defaults.font.family = serif;
Chart.defaults.color = '#000';

function toXY(list) {
    return list.map(p => ({x: p[0], y: p[1]}));
}
function zip(xs, ys) {
    return xs.map((x, i) => ({x: x, y: ys[i]}));
}
function fmt(v) {
    if (Math.abs(v) < 1e-9) v = 0;
    return v.toFixed(1).replace('-', '\u2212');
}

// y label pieces: text, size factor, baseline shift (em), italic, keep x (stacked)
let yLabelParts = [
    {t: 'log ', s: 1}, {t: 'M', s: 1, it: true},
    {t: '*', s: 0.62, dy: -0.42, keep: true}, {t: 'PCA', s: 0.62, dy: 0.2},
    {t: '[M', s: 1}, {t: '\u2299', s: 0.62, dy: 0.2}, {t: ']', s: 1},
    {t: ' \u2212 log ', s: 1}, {t: 'M', s: 1, it: true},
    {t: '*', s: 0.62, dy: -0.42, keep: true}, {t: 'catalog', s: 0.62, dy: 0.2},
    {t: '[', s: 1}, {t: 'M', s: 1, it: true}, {t: '\u2299', s: 0.62, dy: 0.2}, {t: ']', s: 1}
];
let xLabelParts = [{t: 'g', s: 1, it: true}, {t: ' \u2212 ', s: 1}, {t: 'r', s: 1, it: true}];

function fontOf(size, italic) {
    return (italic ? 'italic ' : '') + size + 'px ' + serif;
}
function drawParts(ctx, parts, F, cx, baseY) {
    let x = 0, held = 0, placed = [];
    parts.forEach(p => {
        ctx.font = fontOf(p.s * F, p.it);
        let w = ctx.measureText(p.t).width;
        placed.push({p: p, x: x});
        if (p.keep) {
            held = Math.max(held, w);
        } else {
            x += Math.max(w, held);
            held = 0;
        }
    });
    let start = cx - x / 2;
    ctx.textBaseline = 'alphabetic';
    ctx.textAlign = 'left';
    placed.forEach(q => {
        ctx.font = fontOf(q.p.s * F, q.p.it);
        ctx.fillText(q.p.t, start + q.x, baseY + (q.p.dy || 0) * F);
    });
}

const overlay = {
    id: 'overlay',
    afterDraw(chart) {
        const ctx = chart.ctx;
        const a = chart.chartArea;
        ctx.save();

        // frame on all four sides
        ctx.strokeStyle = '#000';
        ctx.lineWidth = 3.2;
        ctx.strokeRect(a.left, a.top, a.right - a.left, a.bottom - a.top);

        // legend
        let lx = 201, ly = 669, lw = 347, lh = 76;
        ctx.beginPath();
        ctx.roundRect(lx, ly, lw, lh, 7);
        ctx.fillStyle = 'rgba(255,255,255,0.8)';
        ctx.fill();
        ctx.strokeStyle = '#cccccc';
        ctx.lineWidth = 3;
        ctx.stroke();
        let rows = [['NSA catalog', orange, 690], ['JHU-MPA catalog', cyan, 725]];
        rows.forEach(r => {
            ctx.beginPath();
            ctx.arc(234, r[2], 2.8, 0, Math.PI * 2);
            ctx.fillStyle = r[1];
            ctx.fill();
            ctx.fillStyle = '#000';
            ctx.font = fontOf(27, false);
            ctx.textAlign = 'left';
            ctx.textBaseline = 'alphabetic';
            ctx.fillText(r[0], 278, r[2] + 8);
        });

        // x axis title
        ctx.fillStyle = '#000';
        drawParts(ctx, xLabelParts, 26, (a.left + a.right) / 2, 851);

        // y axis title, rotated
        ctx.save();
        ctx.translate(60, (a.top + a.bottom) / 2);
        ctx.rotate(-Math.PI / 2);
        drawParts(ctx, yLabelParts, 36, 0, 0);
        ctx.restore();

        ctx.restore();
    }
};

let ctx = document.getElementById('myChart').getContext('2d');

let chart = new Chart(ctx, {
    type: 'scatter',
    data: {
        datasets: [
            {
                label: 'NSA median',
                data: zip(nsaMedianX, nsaMedianY),
                showLine: true,
                borderColor: '#000',
                borderWidth: 4.2,
                pointRadius: 0,
                fill: false,
                order: 0
            },
            {
                label: 'JHU-MPA median',
                data: zip(jhuMedianX, jhuMedianY),
                showLine: true,
                borderColor: '#000',
                borderWidth: 4.2,
                borderDash: [14, 6],
                pointRadius: 0,
                fill: false,
                order: 1
            },
            {
                label: 'JHU-MPA catalog',
                data: toXY(jhuPoints),
                backgroundColor: cyan,
                borderWidth: 0,
                pointRadius: 2.8,
                order: 2
            },
            {
                label: 'NSA catalog',
                data: toXY(nsaPoints),
                backgroundColor: orange,
                borderWidth: 0,
                pointRadius: 2.8,
                order: 3
            }
        ]
    },
    options: {
        responsive: false,
        animation: false,
        devicePixelRatio: 1,
        events: [],
        layout: { padding: { top: 45, right: 26, left: 0, bottom: 0 } },
        plugins: {
            legend: { display: false },
            tooltip: { enabled: false }
        },
        scales: {
            x: {
                type: 'linear',
                min: -0.1,
                max: 1.0,
                afterBuildTicks: function(scale) {
                    scale.ticks = xTicks.map(v => ({value: v}));
                },
                afterFit: function(scale) {
                    scale.height = 142;
                },
                ticks: {
                    font: { size: 24 },
                    color: '#000',
                    padding: 9,
                    maxRotation: 0,
                    callback: function(value) { return fmt(value); }
                },
                grid: {
                    drawOnChartArea: false,
                    drawTicks: true,
                    tickLength: 13,
                    tickWidth: 3.2,
                    tickColor: '#000'
                },
                border: { display: true, color: '#000', width: 3.2 }
            },
            y: {
                type: 'linear',
                min: -0.2,
                max: 0.5,
                afterBuildTicks: function(scale) {
                    scale.ticks = yTicks.map(v => ({value: v}));
                },
                afterFit: function(scale) {
                    scale.width = 189;
                },
                ticks: {
                    font: { size: 24 },
                    color: '#000',
                    padding: 16,
                    callback: function(value) { return fmt(value); }
                },
                grid: {
                    drawOnChartArea: false,
                    drawTicks: true,
                    tickLength: 13,
                    tickWidth: 3.2,
                    tickColor: '#000'
                },
                border: { display: true, color: '#000', width: 3.2 }
            }
        }
    },
    plugins: [overlay]
});
</script>
</body>
</html>
